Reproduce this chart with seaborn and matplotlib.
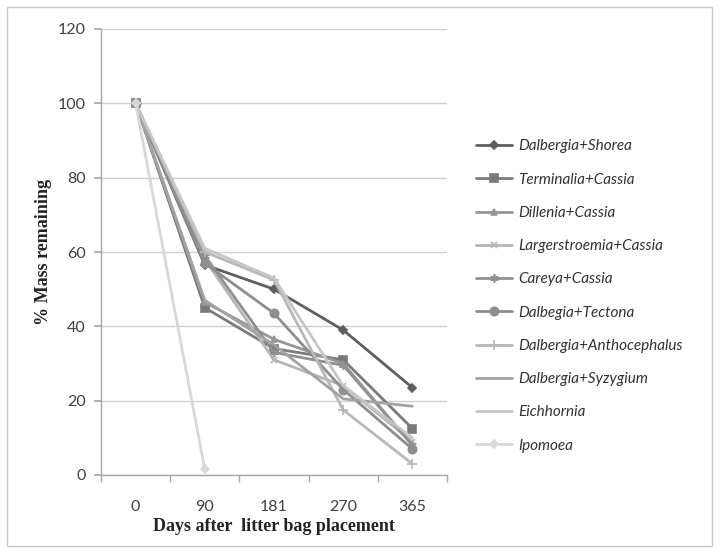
import matplotlib
matplotlib.use("Agg")
import matplotlib.pyplot as plt
import seaborn as sns
import numpy as np
import pandas as pd
from matplotlib.patches import Rectangle

days = ["0", "90", "181", "270", "365"]
names = ["Dalbergia+Shorea", "Terminalia+Cassia", "Dillenia+Cassia",
         "Largerstroemia+Cassia", "Careya+Cassia", "Dalbegia+Tectona",
         "Dalbergia+Anthocephalus", "Dalbergia+Syzygium", "Eichhornia", "Ipomoea"]
shorea = [100, 56.5, 50, 39, 23.5]
terminalia = [100, 45, 34, 31, 12.5]
dillenia = [100, 46.5, 36.5, 30, 8]
largerstroemia = [100, 58, 31, 24, 9]
careya = [100, 59, 33, 29.5, 8]
tectona = [100, 57, 43.5, 23, 7]
anthocephalus = [100, 60, 52.5, 17.5, 3]
syzygium = [100, 47, 35, 20.5, 18.5]
eichhornia = [100, 61, 53, 24, 10]
ipomoea = [100, 1.5, np.nan, np.nan, np.nan]
values = [shorea, terminalia, dillenia, largerstroemia, careya, tectona,
          anthocephalus, syzygium, eichhornia, ipomoea]

colors = ["#5e5e5e", "#7a7a7a", "#969696", "#b6b6b6", "#909090", "#8e8e8e",
          "#b8b8b8", "#a2a2a2", "#c6c6c6", "#d8d8d8"]
markers = ["D", "s", "^", "x", (6, 2, 0), "o", "+", None, None, "D"]
msizes = [4, 6, 5, 5, 6, 6, 7, 0, 0, 4]

sns.set_theme(style="white")
plt.rcParams['font.family'] = ['Lato', 'DejaVu Sans']

fig = plt.figure(figsize=(7.2, 5.53), dpi=100)
ax = fig.add_axes([101/720, 1-475/553, (447-101)/720, (475-29)/553])

for name, vals, c, m, ms in zip(names, values, colors, markers, msizes):
    df = pd.DataFrame({"day": days, "mass": vals}).dropna()
    kw = dict(marker=m, markersize=ms, markeredgecolor=c, markerfacecolor=c,
              markeredgewidth=1.2) if m is not None else {}
    sns.lineplot(data=df, x="day", y="mass", ax=ax, color=c, lw=2.0,
                 label=name, sort=False, **kw)

ax.set_ylim(0, 120)
ax.set_yticks(range(0, 121, 20))
ax.set_xlim(-0.5, 4.5)
ax.yaxis.grid(True, color="#d0d0d0", lw=1)
ax.xaxis.grid(False)
for s in ["top", "right"]:
    ax.spines[s].set_visible(False)
for s in ["left", "bottom"]:
    ax.spines[s].set_color("#a8a8a8")
    ax.spines[s].set_linewidth(1)
ax.tick_params(axis="y", left=True, length=5, color="#a8a8a8", labelsize=11.5,
               labelcolor="#404040", pad=6)
ax.tick_params(axis="x", bottom=False, labelsize=11.5, labelcolor="#404040", pad=12)
ax.set_xticks(np.arange(-0.5, 5, 1), minor=True)
ax.tick_params(axis="x", which="minor", bottom=True, length=5, color="#a8a8a8")

ax.set_ylabel("% Mass remaining", fontfamily="Liberation Serif", fontweight="bold",
              fontsize=13, color="#222222", labelpad=4)
ax.set_xlabel("Days after  litter bag placement", fontfamily="Liberation Serif",
              fontweight="bold", fontsize=13, color="#222222", labelpad=3)

leg = ax.legend(loc="center left", bbox_to_anchor=(462/720, 1-296/553),
                bbox_transform=fig.transFigure, frameon=False,
                prop={"family": "Lato", "style": "italic", "size": 11},
                handlelength=2.4, labelspacing=1.26, handletextpad=0.4)
for t in leg.get_texts():
    t.set_color("#333333")

fig.patches.append(Rectangle((7/720, 1-546/553), (712-7)/720, (546-7)/553,
                             transform=fig.transFigure, fill=False,
                             edgecolor="#c8c8c8", lw=1))

fig.savefig("out.png", dpi=100)
